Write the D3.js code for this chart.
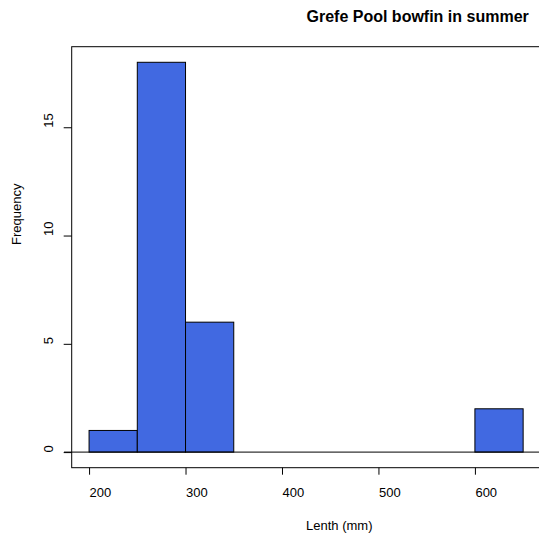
<!DOCTYPE html>
<html><head><meta charset="utf-8">
<script src="https://cdn.jsdelivr.net/npm/d3@7"></script>
<style>body{margin:0;background:#fff}svg{display:block}text{font-family:"Liberation Sans",Arial,sans-serif}</style>
</head><body><svg id="c" width="539" height="537"></svg>
<script>
const binStarts = [200,250,300,350,400,450,500,550,600];
const binWidth = 50;
const counts = [1,18,6,0,0,0,0,0,2];
const xTicks = [200,300,400,500,600];
const yTicks = [0,5,10,15];
const title = "Grefe Pool bowfin in summer";
const xLabel = "Lenth (mm)";
const yLabel = "Frequency";

const svg = d3.select("#c");
const W = 539, H = 537;
const boxL = 71.7, boxR = 540.5, boxT = 46.7, boxB = 467.7;
const x = d3.scaleLinear().domain([182,668]).range([boxL,boxR]);
const y = d3.scaleLinear().domain([-0.72,18.72]).range([boxB,boxT]);

// bars
svg.append("g").selectAll("rect").data(binStarts).join("rect")
  .attr("x", d=>x(d)).attr("width", d=>x(d+binWidth)-x(d))
  .attr("y", (d,i)=>y(counts[i])).attr("height", (d,i)=>y(0)-y(counts[i]))
  .attr("fill","#4169E1").attr("stroke","#000").attr("stroke-width",1);

// zero line
svg.append("line").attr("x1",64).attr("x2",W).attr("y1",y(0)).attr("y2",y(0))
  .attr("stroke","#000").attr("stroke-width",1);

// box
svg.append("rect").attr("x",boxL).attr("y",boxT).attr("width",boxR-boxL).attr("height",boxB-boxT)
  .attr("fill","none").attr("stroke","#000").attr("stroke-width",1);

// x axis
const gx = svg.append("g").attr("transform",`translate(0,${boxB})`)
  .call(d3.axisBottom(x).tickValues(xTicks).tickSize(7).tickPadding(12).tickFormat(d3.format("d")));
gx.select(".domain").remove();
gx.selectAll("text").attr("font-size",13).attr("fill","#000").attr("font-family","Liberation Sans, Arial, sans-serif")
  .attr("text-anchor","start").attr("dy",0).attr("y",29.5);

// y axis
const gy = svg.append("g").attr("transform",`translate(${boxL},0)`)
  .call(d3.axisLeft(y).tickValues(yTicks).tickSize(8).tickFormat(d3.format("d")));
gy.select(".domain").remove();
gy.selectAll("text").attr("font-size",13).attr("fill","#000").attr("font-family","Liberation Sans, Arial, sans-serif")
  .attr("transform","rotate(-90)").attr("x",0).attr("dy",0).attr("y",-19.2)
  .attr("text-anchor","start");

svg.append("text").attr("x",306.5).attr("y",22).attr("text-anchor","start")
  .attr("font-size",16).attr("font-weight","bold").text(title);
svg.append("text").attr("x",306).attr("y",530).attr("text-anchor","start")
  .attr("font-size",13).text(xLabel);
svg.append("text").attr("transform",`translate(21,245) rotate(-90)`)
  .attr("text-anchor","start").attr("font-size",13).text(yLabel);
</script></body></html>
